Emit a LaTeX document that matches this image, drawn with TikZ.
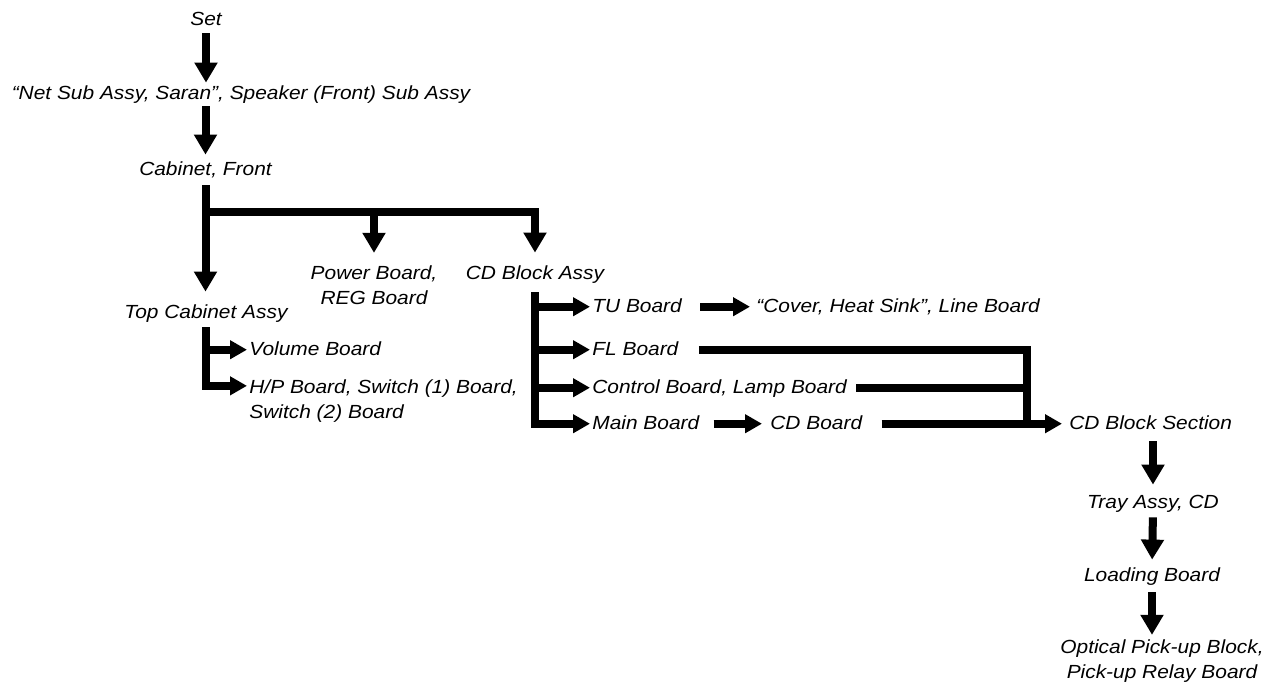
\documentclass[tikz,border=0pt]{standalone}
\usepackage{fontspec}
\setmainfont{Liberation Sans}[FakeStretch=1.1]
\usetikzlibrary{
  arrows.meta,
  calc,
  positioning
}
\definecolor{flowInk}{HTML}{000000}
\tikzset{
  partLabel/.style={
    font=\fontsize{9.5pt}{12.5pt}\selectfont\itshape,
    inner sep=0pt,
    text height=7pt,
    text depth=2pt,
    anchor=base
  },
  partLabelMulti/.style={
    font=\fontsize{9.5pt}{12.5pt}\selectfont\itshape,
    inner sep=0pt,
    align=center,
    anchor=base
  },
  flowLine/.style={line width=4pt, flowInk, line join=miter},
  flowArrow/.style={
    flowLine,
    -{Triangle[length=10pt, width=11pt]},
    shorten <=3pt,
    shorten >=3pt
  },
  sideArrow/.style={
    flowLine,
    -{Triangle[length=8.5pt, width=9pt]},
    shorten >=1pt
  }
}

\begin{document}
\begin{tikzpicture}[x=0.5pt,y=-0.5pt]
  \useasboundingbox (0,0) rectangle (1265,693);

  % main column
  \node[partLabel] (set) at (206,25) {Set};
  \node[partLabel] (net) at (241,99)
    {``Net Sub Assy, Saran'', Speaker (Front) Sub Assy};
  \node[partLabel] (cab) at (205.5,175) {Cabinet, Front};
  \node[partLabel] (topcab) at (206,318) {Top Cabinet Assy};
  \node[partLabelMulti] (power) at (374,304) {Power Board,\\REG Board};
  \node[partLabel] (cdblk) at (535,279) {CD Block Assy};

  \draw[flowArrow, shorten <=2pt, shorten >=1pt] (set.south) -- (set.south |- net.north);
  \draw[flowArrow, shorten <=1.5pt] (net.south -| cab) -- (cab.north);
  \draw[flowArrow, shorten >=6pt] (cab.south) -- (cab.south |- topcab.north);

  \coordinate (bus) at (205.5,212);
  \draw[flowArrow, shorten <=0pt, shorten >=6pt] (bus) -| (cdblk.north);
  \draw[flowArrow, shorten <=0pt, shorten >=6pt] (bus -| power.north) -- (power.north);

  % top cabinet parts
  \node[partLabel, anchor=base west] (vol) at (249,355) {Volume Board};
  \node[partLabelMulti, align=left, anchor=base west] (hp) at (249,418)
    {H/P Board, Switch (1) Board,\\Switch (2) Board};
  \coordinate (hpIn) at ($(hp.north west)+(0,7)$);
  \draw[sideArrow, shorten <=2.5pt] (topcab.south) |- (hpIn);
  \draw[sideArrow] (topcab.south |- vol.mid west) -- (vol.mid west);

  % CD block parts
  \node[partLabel, anchor=base west] (tu) at (592,312) {TU Board};
  \node[partLabel, anchor=base west] (cover) at (756,312)
    {``Cover, Heat Sink'', Line Board};
  \node[partLabel, anchor=base west] (fl) at (592,355) {FL Board};
  \node[partLabel, anchor=base west] (ctrl) at (592,393) {Control Board, Lamp Board};
  \node[partLabel, anchor=base west] (main) at (592,429) {Main Board};
  \node[partLabel, anchor=base west] (cdb) at (770,429) {CD Board};
  \node[partLabel, anchor=base west] (sec) at (1069,429) {CD Block Section};

  \draw[sideArrow, shorten <=4.5pt] (cdblk.south) |- (main.mid west);
  \draw[sideArrow] (cdblk.south |- tu.mid west) -- (tu.mid west);
  \draw[sideArrow] (cdblk.south |- fl.mid west) -- (fl.mid west);
  \draw[sideArrow] (cdblk.south |- ctrl.mid west) -- (ctrl.mid west);
  \draw[sideArrow, shorten <=9pt, shorten >=3pt] (tu.mid east) -- (cover.mid west);
  \draw[sideArrow, shorten <=7pt, shorten >=4pt] (main.mid east) -- (cdb.mid west);

  \coordinate (merge) at (main.mid west -| 1027,0);
  \draw[flowLine, shorten <=10pt] (fl.mid east) -| (merge);
  \draw[flowLine, shorten <=4.5pt] (ctrl.mid east) -- (ctrl.mid east -| merge);
  \draw[sideArrow, shorten <=9.5pt, shorten >=3.5pt] (cdb.mid east) -- (sec.mid west);

  % CD block section
  \node[partLabel] (tray) at (1153,508) {Tray Assy, CD};
  \node[partLabel] (load) at (1152,581) {Loading Board};
  \node[partLabelMulti] (opt) at (1162,678)
    {Optical Pick-up Block,\\Pick-up Relay Board};

  \draw[flowArrow, shorten <=4pt, shorten >=4.5pt] (tray.north |- sec.south) -- (tray.north);
  \draw[flowArrow, shorten <=2.5pt, shorten >=3.5pt] (tray.south) -- (load.north);
  \draw[flowArrow, shorten <=3.5pt, shorten >=2pt] (load.south) -- (load.south |- opt.north);
\end{tikzpicture}
\end{document}
